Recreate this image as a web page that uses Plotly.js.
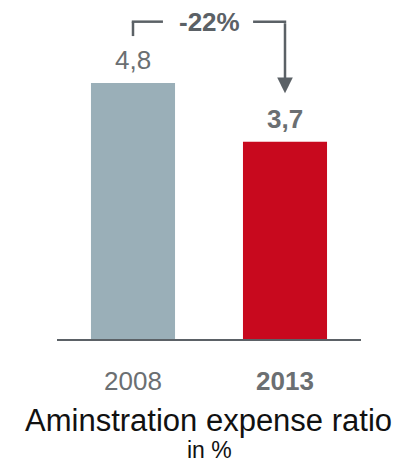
<!DOCTYPE html>
<html><head><meta charset="utf-8">
<script src="https://cdn.plot.ly/plotly-3.0.1.min.js"></script>
<style>html,body{margin:0;padding:0;background:#fff}#c{width:404px;height:465px}</style>
</head><body><div id="c"></div>
<script>
const categories = ['2008', '2013'];
const values = [4.8, 3.7];
const valueLabels = ['4,8', '<b>3,7</b>'];
const tickLabels = ['2008', '<b>2013</b>'];
const changeLabel = '<b>-22%</b>';
const chartTitle = 'Aminstration expense ratio';
const chartSubtitle = 'in %';
const barColors = ['#9aafb8', '#c8091e'];

const gray = '#6b6f72';
const dark = '#5b6166';
const bracketTop = values[0] + 1.15;
const leftBottom = values[0] + 0.88;
const arrowTip = values[1] + 0.91;
const FONT = 'Liberation Sans, Arial, sans-serif';

const trace = {
  type: 'bar', x: categories, y: values,
  marker: {color: barColors, line: {width: 0}},
  hoverinfo: 'skip'
};

const annotations = categories.map((c, i) => ({
  x: i, y: values[i], xref: 'x', yref: 'y', text: valueLabels[i],
  showarrow: false, yanchor: 'bottom', yshift: 6,
  font: {family: FONT, size: 26, color: gray}
}));
annotations.push({
  x: 0.5, y: bracketTop, xref: 'x', yref: 'y', text: changeLabel, showarrow: false,
  font: {family: FONT, size: 26, color: dark}
});
annotations.push({
  x: 1, y: arrowTip, xref: 'x', yref: 'y', text: '',
  showarrow: true, axref: 'x', ayref: 'y', ax: 1, ay: bracketTop,
  arrowhead: 2, arrowsize: 1.25, arrowwidth: 2.5, arrowcolor: dark, standoff: 0
});
annotations.push({
  x: 0.5, y: 0, xref: 'paper', yref: 'paper', yanchor: 'middle', yshift: -81, xshift: -1,
  text: chartTitle, showarrow: false,
  font: {family: FONT, size: 31, color: '#111'}
});
annotations.push({
  x: 0.5, y: 0, xref: 'paper', yref: 'paper', yanchor: 'middle', yshift: -111,
  text: chartSubtitle, showarrow: false,
  font: {family: FONT, size: 23, color: '#111'}
});

const lineStyle = {color: dark, width: 2.5};
const shapes = [
  {type: 'line', xref: 'x', yref: 'y', x0: 0, x1: 0, y0: leftBottom, y1: bracketTop, line: lineStyle},
  {type: 'line', xref: 'x', yref: 'y', x0: -0.008, x1: 0.197, y0: bracketTop, y1: bracketTop, line: lineStyle},
  {type: 'line', xref: 'x', yref: 'y', x0: 0.79, x1: 1.008, y0: bracketTop, y1: bracketTop, line: lineStyle}
];

const layout = {
  width: 404, height: 465,
  margin: {l: 57, r: 42.5, t: 19, b: 126},
  paper_bgcolor: '#fff', plot_bgcolor: '#fff',
  bargap: 0.447,
  showlegend: false,
  xaxis: {
    type: 'category', range: [-0.5, 1.5], showgrid: false, zeroline: false,
    showline: true, linecolor: dark, linewidth: 2, ticks: '',
    tickvals: categories, ticktext: tickLabels, ticklabelstandoff: 18,
    tickfont: {family: FONT, size: 26, color: gray}
  },
  yaxis: {range: [0, 6], visible: false, showgrid: false, zeroline: false},
  annotations: annotations, shapes: shapes
};

Plotly.newPlot('c', [trace], layout, {displayModeBar: false, staticPlot: true});
</script></body></html>
